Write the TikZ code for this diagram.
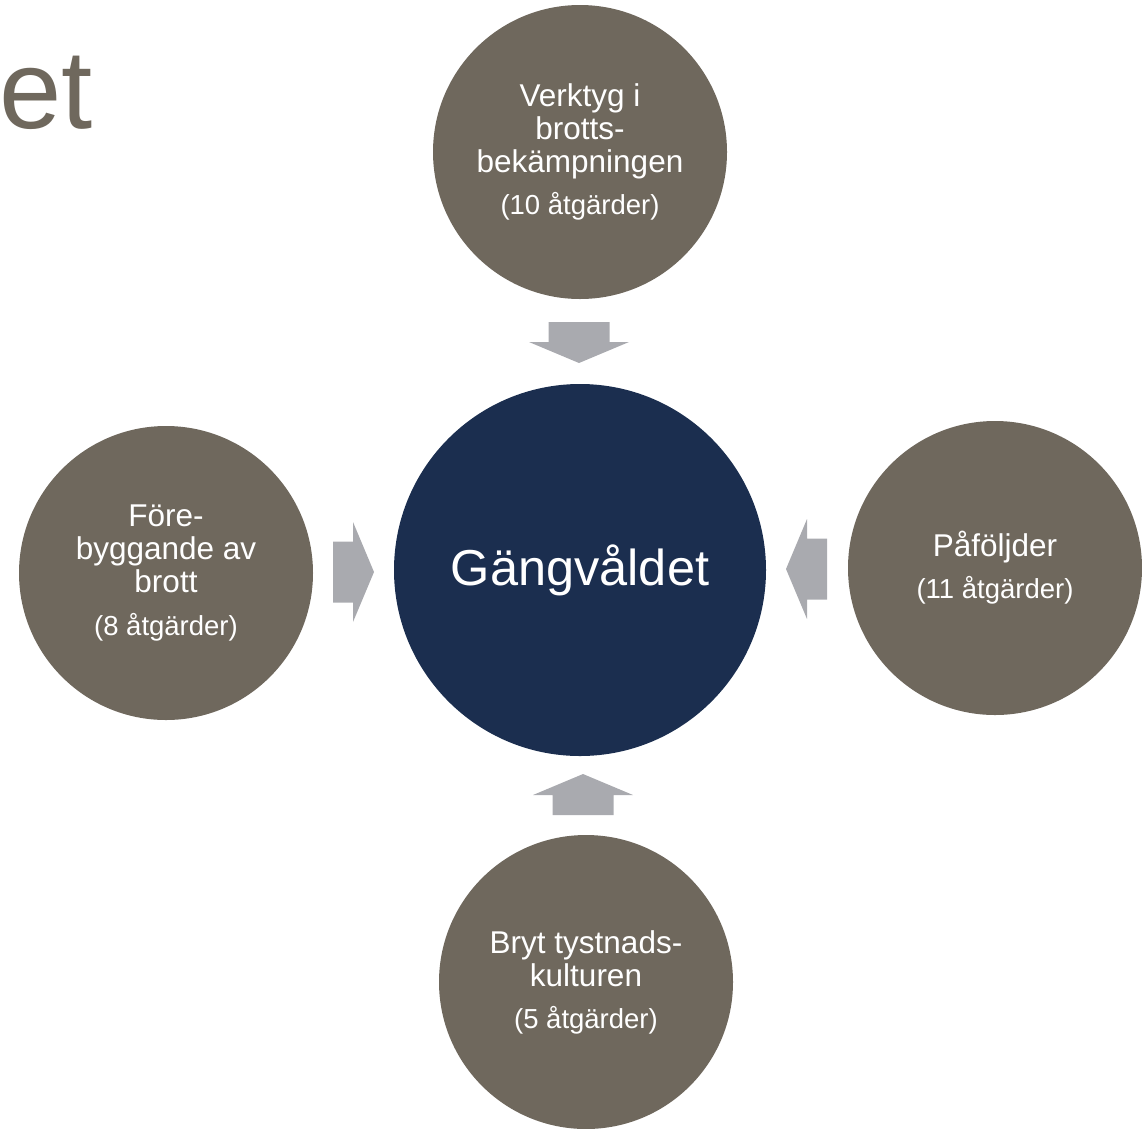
\documentclass[tikz,border=0pt]{standalone}
\usepackage{fontspec}
\setmainfont{Liberation Sans}
\usetikzlibrary{calc}
\definecolor{stone}{HTML}{6F685D}
\definecolor{navy}{HTML}{1B2E4F}
\definecolor{pilgra}{HTML}{A9AAAF}
\newcommand*{\crad}{294pt}
\newcommand*{\brad}{372pt}
\newcommand*{\antal}[1]{{\fontsize{27.5}{30}\selectfont(#1 åtgärder)}}
\tikzset{
  omrade/.style={circle, fill=stone, text=white, minimum size=\crad, inner sep=0pt, align=center, font=\fontsize{31.5}{33}\selectfont},
  karna/.style={circle, fill=navy, text=white, minimum size=\brad, inner sep=0pt, font=\fontsize{50.5}{60}\selectfont},
  pil/.pic={\fill[pilgra] (0,-30.5) -- (20,-30.5) -- (20,-50) -- (41,0) -- (20,50) -- (20,30.5) -- (0,30.5) -- cycle;}
}

\begin{document}
\begin{tikzpicture}[x=1pt, y=1pt]
    \useasboundingbox (0,0) rectangle (1142,-1128);
    \clip (0,0) rectangle (1142,-1128);
    \node [anchor=base east, inner sep=0pt, text=stone, font=\fontsize{112}{112}\selectfont] (rubrik) at (93,-128) {et};
    \node [karna]  (gang)     at (580,-570) {Gängvåldet};
    \node [omrade] (verktyg)  at (580,-152) {Verktyg i\\brotts-\\bekämpningen\\[9pt]\antal{10}};
    \node [omrade] (forebygg) at (166,-573) {Före-\\byggande av\\brott\\[10pt]\antal{8}};
    \node [omrade] (pafoljd)  at (995,-568) {Påföljder\\[9pt]\antal{11}};
    \node [omrade] (tystnad)  at (586,-982) {Bryt tystnads-\\kulturen\\[9pt]\antal{5}};
    \pic [rotate=-90] at (579,-322) {pil};
    \pic [rotate=0]   at (333,-572) {pil};
    \pic [rotate=180] at (827,-569) {pil};
    \pic [rotate=90]  at (583,-815) {pil};
\end{tikzpicture}
\end{document}
